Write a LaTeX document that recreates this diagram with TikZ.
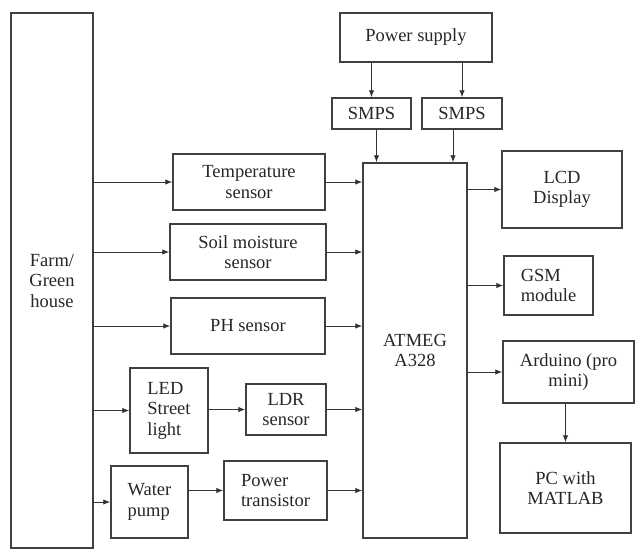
\documentclass[tikz,border=0pt]{standalone}
\usepackage{fontspec}
\setmainfont{Liberation Serif}
\usetikzlibrary{arrows.meta}
\begin{document}
\begin{tikzpicture}[x=1pt,y=-1pt,
  box/.style={draw=black!75,line width=1.5pt,inner sep=0pt,align=center,text=black!85,
    font=\fontsize{18.5}{20.5}\selectfont},
  lbox/.style={box,align=left},
  arr/.style={draw=black!80,line width=0.9pt,-{Latex[length=7pt,width=5.5pt]}}]
\useasboundingbox (0,0) rectangle (639,551);
\node[box,minimum width=82pt,minimum height=535pt] (farm) at (52,280.5) {Farm/\\Green\\house};
\node[box,minimum width=152pt,minimum height=56pt] (temp) at (249,182) {Temperature\\sensor};
\node[box,minimum width=156pt,minimum height=56pt] (soil) at (248,252) {Soil moisture\\sensor};
\node[box,minimum width=154pt,minimum height=56pt] (ph) at (248,326) {PH sensor};
\node[lbox,minimum width=78pt,minimum height=85pt] (led) at (169,410.5) {LED\\Street\\light};
\node[box,minimum width=80pt,minimum height=51pt] (ldr) at (286,409.5) {LDR\\sensor};
\node[lbox,minimum width=77pt,minimum height=72pt] (pump) at (149.5,502) {Water\\pump};
\node[lbox,minimum width=103pt,minimum height=59pt] (pt) at (275.5,490.5) {Power\\transistor};
\node[box,minimum width=104pt,minimum height=375pt] (at) at (415,350.5) {ATMEG\\A328};
\node[box,minimum width=152pt,minimum height=49pt] (ps) at (416,37.5) {Power supply};
\node[box,minimum width=79pt,minimum height=31pt] (s1) at (371.5,113.5) {SMPS};
\node[box,minimum width=80pt,minimum height=31pt] (s2) at (462,113.5) {SMPS};
\node[box,minimum width=120pt,minimum height=77pt] (lcd) at (562,189.5) {LCD\\Display};
\node[lbox,minimum width=89pt,minimum height=59pt] (gsm) at (548.5,285.5) {GSM\\module};
\node[box,minimum width=131pt,minimum height=62pt] (ard) at (568.5,372) {Arduino (pro\\mini)};
\node[box,minimum width=131pt,minimum height=90pt] (pc) at (565.5,488) {PC with\\MATLAB};
% farm outputs
\draw[arr] (farm.east |- temp.west) -- (temp.west);
\draw[arr] (farm.east |- soil.west) -- (soil.west);
\draw[arr] (farm.east |- ph.west) -- (ph.west);
\draw[arr] (farm.east |- led.west) -- (led.west);
\draw[arr] (farm.east |- pump.west) -- (pump.west);
\draw[arr] (led.east |- ldr.west) -- (ldr.west);
\draw[arr] (pump.east |- pt.west) -- (pt.west);
% into ATMEGA
\draw[arr] (temp.east) -- (temp.east -| at.west);
\draw[arr] (soil.east) -- (soil.east -| at.west);
\draw[arr] (ph.east) -- (ph.east -| at.west);
\draw[arr] (ldr.east) -- (ldr.east -| at.west);
\draw[arr] (pt.east) -- (pt.east -| at.west);
% power
\draw[arr] (ps.south -| s1.north) -- (s1.north);
\draw[arr] (ps.south -| s2.north) -- (s2.north);
\draw[arr] ([xshift=5pt]s1.south) -- ([xshift=5pt]s1.south |- at.north);
\draw[arr] ([xshift=-9pt]s2.south) -- ([xshift=-9pt]s2.south |- at.north);
% outputs
\draw[arr] (at.east |- lcd.west) -- (lcd.west);
\draw[arr] (at.east |- gsm.west) -- (gsm.west);
\draw[arr] (at.east |- ard.west) -- (ard.west);
\draw[arr] (ard.south -| pc.north) -- (pc.north);
\end{tikzpicture}
\end{document}
